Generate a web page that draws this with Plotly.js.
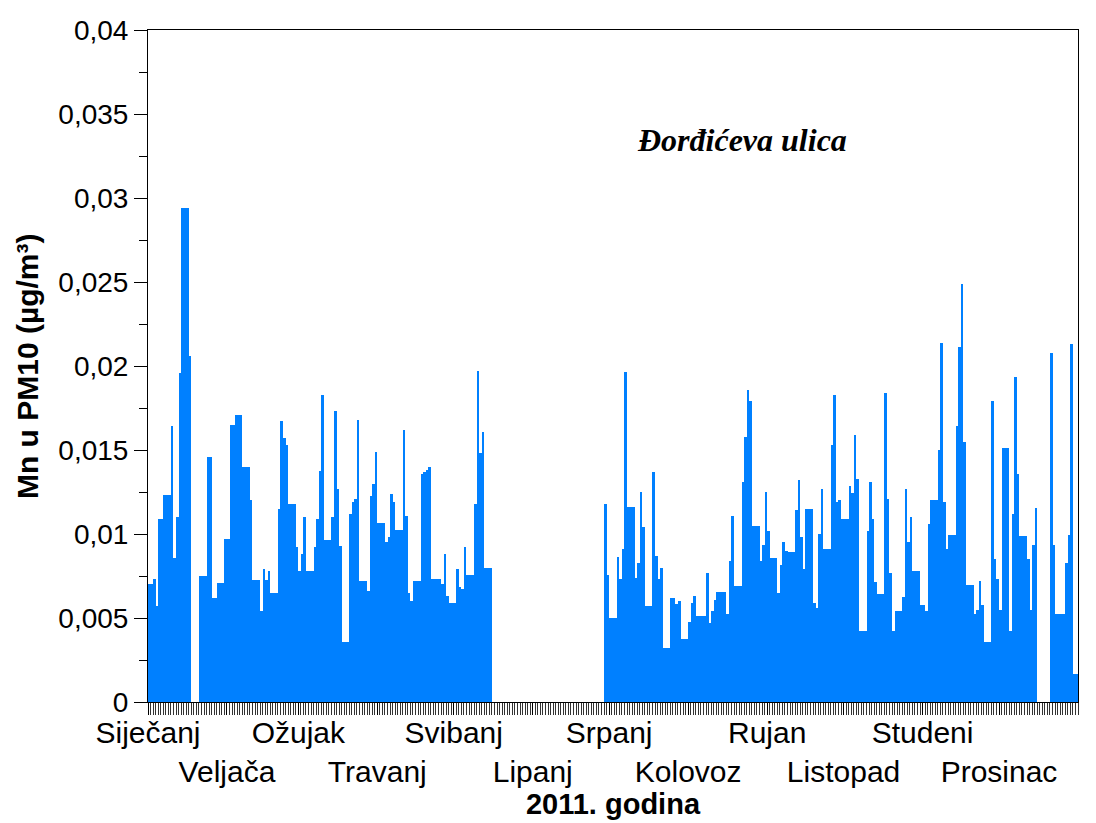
<!DOCTYPE html>
<html>
<head>
<meta charset="utf-8">
<script src="https://cdn.plot.ly/plotly-3.0.1.min.js"></script>
<style>html,body{margin:0;padding:0;background:#fff;}#chart{width:1096px;height:823px;}</style>
</head>
<body>
<div id="chart"></div>
<script>
// Daily Mn in PM10 (µg/m³), Đorđićeva ulica, 2011 — one array per month
const jan = [0.00705,0.00705,0.0073,0.0057,0.0109,0.0109,0.0123,0.0123,0.0123,0.0164,0.0086,0.0110,0.0196,0.0294,0.0294,0.0294,0.0206,0,0,0,0.0075,0.0075,0.0075,0.0146,0.0146,0.0062,0.0062,0.0071,0.0071,0.0071,0.0097];
const feb = [0.0097,0.0165,0.0165,0.0171,0.0171,0.0171,0.0140,0.0140,0.0140,0.0120,0.00725,0.00725,0.00725,0.0054,0.0079,0.00725,0.0078,0.0065,0.0065,0.0065,0.0115,0.0167,0.0157,0.0153,0.0118,0.0118,0.0118,0.0092];
const mar = [0.0078,0.0088,0.0110,0.0078,0.0078,0.0078,0.0092,0.0109,0.01375,0.0183,0.00965,0.00965,0.00965,0.0110,0.0173,0.0127,0.0093,0.0036,0.0036,0.0036,0.0112,0.0119,0.0121,0.0168,0.0072,0.0072,0.0072,0.0066,0.01225,0.0130,0.0149];
const apr = [0.01065,0.01065,0.01065,0.0095,0.00985,0.0124,0.0119,0.01025,0.01025,0.01025,0.0162,0.0111,0.0065,0.0060,0.0072,0.0072,0.0072,0.0136,0.0137,0.0138,0.0140,0.0073,0.0073,0.0073,0.0073,0.00705,0.0088,0.0063,0.0059,0.0059];
const may = [0.0059,0.0079,0.00685,0.00675,0.0092,0.00755,0.00755,0.00755,0.0118,0.0197,0.0148,0.0161,0.0080,0.0080,0.0080,0,0,0,0,0,0,0,0,0,0,0,0,0,0,0,0];
const jun = [0,0,0,0,0,0,0,0,0,0,0,0,0,0,0,0,0,0,0,0,0,0,0,0,0,0,0,0,0.0118,0.00755];
const jul = [0.0050,0.0050,0.0050,0.00865,0.00735,0.0091,0.01965,0.0116,0.0116,0.0116,0.0074,0.00825,0.0125,0.0104,0.0057,0.0057,0.0057,0.0137,0.0087,0.00735,0.0080,0.0032,0.0032,0.0032,0.0062,0.0062,0.00585,0.0060,0.00375,0.00375,0.00375];
const aug = [0.00475,0.0059,0.0063,0.0051,0.0051,0.0051,0.0051,0.0077,0.0047,0.0054,0.00605,0.00655,0.00655,0.00655,0.00655,0.00525,0.0084,0.01105,0.0069,0.0069,0.0069,0.0131,0.01575,0.0186,0.0179,0.0105,0.0105,0.0105,0.0084,0.00935,0.0125];
const sep = [0.0102,0.0086,0.0086,0.0086,0.0065,0.00815,0.0095,0.0090,0.0089,0.0089,0.0089,0.0114,0.0132,0.0098,0.0079,0.0115,0.0115,0.0115,0.0059,0.0056,0.0100,0.0127,0.0091,0.0091,0.0091,0.0153,0.0183,0.0119,0.0120,0.0109];
const oct = [0.0109,0.0109,0.01285,0.01245,0.0159,0.01325,0.00425,0.00425,0.00425,0.0102,0.0131,0.0109,0.00715,0.0064,0.0064,0.0064,0.0184,0.0121,0.00765,0.0042,0.0054,0.0054,0.0054,0.00625,0.01265,0.0095,0.0110,0.0078,0.0078,0.0078,0.00575];
const nov = [0.00575,0.0054,0.0106,0.0120,0.0120,0.0120,0.0150,0.02135,0.0119,0.0091,0.00995,0.00995,0.00995,0.0164,0.02115,0.0249,0.01545,0.00695,0.00695,0.00695,0.00525,0.00545,0.0072,0.00575,0.0036,0.0036,0.0036,0.0179,0.0085,0.0073];
const dec = [0.00545,0.0151,0.0151,0.0151,0.0042,0.0112,0.01935,0.0136,0.0099,0.0099,0.0099,0.0085,0.00545,0.00935,0.01155,0,0,0,0,0,0.0208,0.00935,0.00525,0.00525,0.00525,0.00525,0.0083,0.00995,0.0213,0.00165,0.00165];

const monthStarts = ['2011-01-01','2011-02-01','2011-03-01','2011-04-01','2011-05-01','2011-06-01','2011-07-01','2011-08-01','2011-09-01','2011-10-01','2011-11-01','2011-12-01'];
const monthNames = ['Siječanj','Veljača','Ožujak','Travanj','Svibanj','Lipanj','Srpanj','Kolovoz','Rujan','Listopad','Studeni','Prosinac'];

const values = [].concat(jan,feb,mar,apr,may,jun,jul,aug,sep,oct,nov,dec);
const dates = values.map((v,i) => new Date(Date.UTC(2011,0,1+i)).toISOString().slice(0,10));
const tickText = monthNames.map((m,i) => i % 2 === 0 ? m : '<br>' + m);

const SANS = 'Liberation Sans, Arial, sans-serif';

const trace = {
  type: 'bar',
  x: dates,
  y: values,
  xperiod: 86400000,
  xperiodalignment: 'middle',
  marker: {color: '#0080ff', line: {width: 0}},
  hoverinfo: 'x+y'
};

const layout = {
  width: 1096, height: 823,
  margin: {l: 148, r: 18, t: 30, b: 121},
  paper_bgcolor: '#ffffff', plot_bgcolor: '#ffffff',
  separators: ', ',
  bargap: 0,
  showlegend: false,
  font: {family: SANS, color: '#000'},
  xaxis: {
    type: 'date',
    range: ['2011-01-01', '2012-01-01'],
    tickmode: 'array',
    tickvals: monthStarts,
    ticktext: tickText,
    tickangle: 0,
    ticklabelstandoff: -8,
    ticks: 'outside', ticklen: 12, tickwidth: 1, tickcolor: '#000',
    minor: {dtick: 86400000, tick0: '2011-01-01', ticks: 'outside', ticklen: 12, tickwidth: 1, tickcolor: '#333', showgrid: false},
    tickfont: {family: SANS, size: 30, color: '#000'},
    showline: true, linecolor: '#000', linewidth: 1, mirror: true,
    showgrid: false, zeroline: false,
    automargin: false,
    title: {text: '2011. godina', font: {family: SANS, size: 29, weight: 'bold', color: '#000'}, standoff: 2}
  },
  yaxis: {
    range: [0, 0.04],
    tick0: 0, dtick: 0.005,
    ticks: 'outside', ticklen: 13, tickwidth: 1, tickcolor: '#000',
    minor: {dtick: 0.0025, tick0: 0, ticks: 'outside', ticklen: 8, tickwidth: 1, tickcolor: '#000', showgrid: false},
    tickfont: {family: SANS, size: 28, color: '#000'},
    showline: true, linecolor: '#000', linewidth: 1, mirror: true,
    showgrid: false, zeroline: false,
    automargin: false
  },
  annotations: [{
    xref: 'paper', yref: 'paper', x: 0.639, y: 0.836,
    xanchor: 'center', yanchor: 'middle', showarrow: false,
    text: 'Đorđićeva ulica',
    font: {family: 'Liberation Serif, Times New Roman, serif', size: 32, weight: 'bold', style: 'italic', color: '#000'}
  }, {
    xref: 'paper', yref: 'paper', x: -0.130, y: 0.5,
    xanchor: 'center', yanchor: 'middle', showarrow: false,
    textangle: -90,
    text: 'Mn u PM10 (µg/m³)',
    font: {family: SANS, size: 30, weight: 'bold', color: '#000'}
  }]
};

Plotly.newPlot('chart', [trace], layout, {displayModeBar: false, staticPlot: true});
</script>
</body>
</html>
